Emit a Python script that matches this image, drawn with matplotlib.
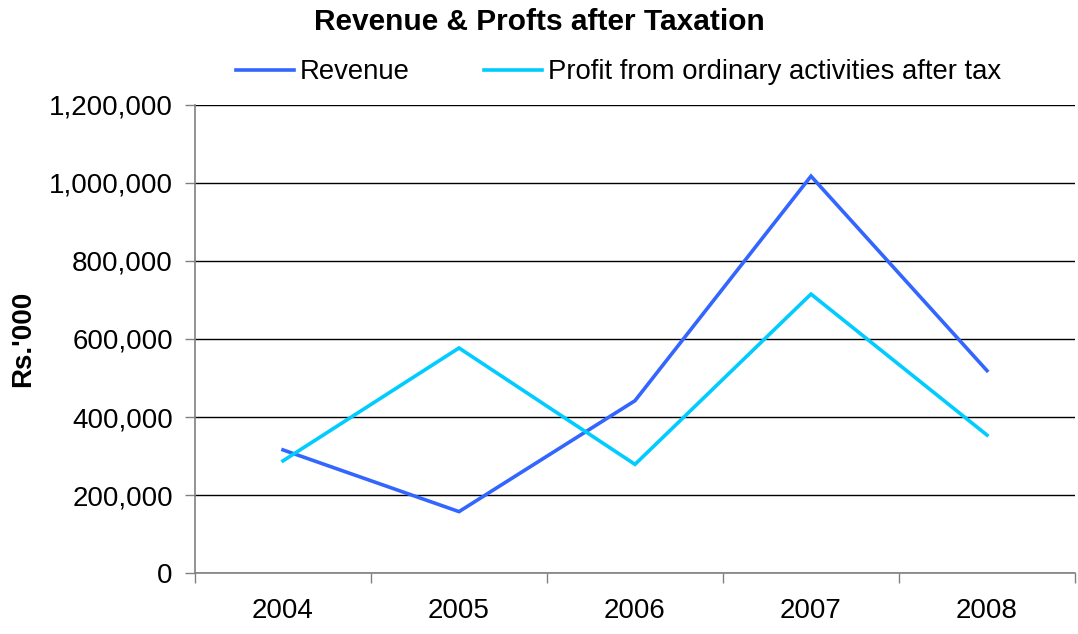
import matplotlib
matplotlib.use("Agg")
import matplotlib.pyplot as plt
from matplotlib.ticker import FuncFormatter, FixedLocator

# data (Rs.'000)
YEARS = ['2004', '2005', '2006', '2007', '2008']
REVENUE = [316000, 158000, 442000, 1017000, 519000]
PROFIT = [288000, 577000, 279000, 715000, 354000]

plt.rcParams['font.family'] = ['Liberation Sans', 'DejaVu Sans']


def thousands(val, pos):
    '''Formats y tick labels with comma separators'''
    return f'{int(val):,}'


def plot_revenue_profit():
    '''Line chart of revenue and profit after tax by year'''
    fig = plt.figure(figsize=(10.78, 6.34), dpi=100)
    ax = fig.add_axes([0.1809, 0.0957, 0.8163, 0.7392])
    x = list(range(len(YEARS)))
    ax.plot(x, REVENUE, color='#3366FF', lw=2.6, label='Revenue',
            solid_joinstyle='miter')
    ax.plot(x, PROFIT, color='#00CCFF', lw=2.6,
            label='Profit from ordinary activities after tax',
            solid_joinstyle='miter')

    ax.set_xlim(-0.5, len(YEARS) - 0.5)
    ax.set_ylim(0, 1200000)
    ax.set_yticks(range(0, 1200001, 200000))
    ax.yaxis.set_major_formatter(FuncFormatter(thousands))
    ax.set_xticks(x)
    ax.set_xticklabels(YEARS)
    ax.xaxis.set_minor_locator(FixedLocator([i - 0.5 for i in range(len(YEARS) + 1)]))

    ax.tick_params(axis='x', which='major', length=0, pad=18, labelsize=20)
    ax.tick_params(axis='x', which='minor', length=7, width=1, color='#808080',
                   direction='out')
    ax.tick_params(axis='y', length=7, width=1, color='#808080', pad=9,
                   labelsize=20)

    ax.grid(axis='y', color='black', lw=1)
    ax.set_axisbelow(True)
    for side in ['top', 'right']:
        ax.spines[side].set_visible(False)
    for side in ['left', 'bottom']:
        ax.spines[side].set_color('#808080')
        ax.spines[side].set_linewidth(1.2)
    ax.spines['bottom'].set_zorder(3)

    fig.text(0.5, 0.965, 'Revenue & Profts after Taxation', ha='center',
             va='center', fontsize=21.5, fontweight='bold')
    fig.text(0.021, 0.465, "Rs.'000", ha='center', va='center', rotation=90,
             fontsize=20, fontweight='bold')
    fig.legend(loc='center', bbox_to_anchor=(0.574, 0.886), ncol=2,
               frameon=False, fontsize=19.8, handlelength=2.1,
               handletextpad=0.22, columnspacing=2.7)
    fig.savefig('out.png', dpi=100)


def main():
    plot_revenue_profit()


if __name__ == "__main__":
    main()
